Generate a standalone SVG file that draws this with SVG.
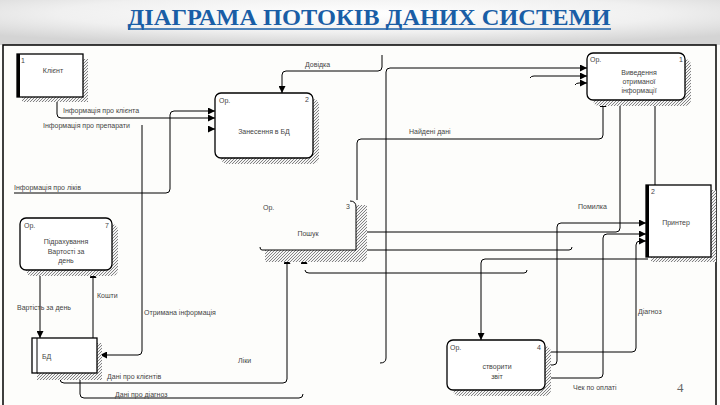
<svg xmlns="http://www.w3.org/2000/svg" width="720" height="405" viewBox="0 0 720 405">
<defs>
<radialGradient id="bg" cx="0.5" cy="0.3" r="0.7">
<stop offset="0" stop-color="#ffffff"/>
<stop offset="0.6" stop-color="#f0f0f0"/>
<stop offset="1" stop-color="#d4d4d4"/>
</radialGradient>
<pattern id="hatch" width="3" height="3" patternUnits="userSpaceOnUse">
<rect width="3" height="3" fill="#f4f4f4"/>
<path d="M0,3 L3,0" stroke="#666" stroke-width="0.8"/>
</pattern>
<marker id="ar" markerUnits="userSpaceOnUse" markerWidth="7" markerHeight="7" refX="7" refY="3.5" orient="auto">
<path d="M0,0 L7,3.5 L0,7 z" fill="#000"/>
</marker>
<style>
.n{fill:#fff;stroke:#000;stroke-width:1.3}
.sh{fill:url(#hatch);stroke:none}
.c{fill:none;stroke:#000;stroke-width:1}
.ca{fill:none;stroke:#000;stroke-width:1;marker-end:url(#ar)}
.t{font-family:"Liberation Sans",Arial,sans-serif;font-size:7px;fill:#444}
.tm{font-family:"Liberation Sans",Arial,sans-serif;font-size:7px;fill:#444;text-anchor:middle}
.title{font-family:"Liberation Serif","Times New Roman",serif;font-size:24px;font-weight:bold;fill:#1a5ea6}
</style>
</defs>
<rect x="0" y="0" width="720" height="405" fill="#fdfdfb"/>
<rect x="0" y="0" width="720" height="45" fill="url(#bg)"/>
<text class="title" x="369" y="25" text-anchor="middle" textLength="483" lengthAdjust="spacingAndGlyphs">ДІАГРАМА ПОТОКІВ ДАНИХ СИСТЕМИ</text>
<line x1="128" y1="29" x2="611" y2="29" stroke="#1a5ea6" stroke-width="1.6"/>
<rect x="3" y="45" width="713" height="370" fill="none" stroke="#000" stroke-width="1.5"/>

<g id="connectors">
<path class="ca" d="M57,97 V114 Q57,118 61,118 H215"/>
<path class="ca" d="M14,193 H166 Q170,193 170,189 V115 Q170,111 174,111 H215"/>
<path class="ca" d="M209,129 H215"/>
<path class="ca" d="M142,125 V351 Q142,355 138,355 H100"/>
<path class="ca" d="M382,55 V67 Q382,71 378,71 H286 Q282,71 282,75 V93"/>
<path class="ca" d="M380,363 Q386,363 386,358 V72 Q386,68 390,68 H587"/>
<path class="ca" d="M530,78 Q531,76 534,76 H587"/>
<path class="ca" d="M575,85 Q576,83 579,83 H587"/>
<path class="ca" d="M357,200 V143 Q357,139 361,139 H599 Q603,139 603,135 V100"/>
<path class="ca" d="M620,100 V228 Q620,232 616,232 H358"/>
<path class="c" d="M655,100 V185"/>
<path class="ca" d="M545,365 H553 Q557,365 557,361 V227 Q557,223 561,223 H646"/>
<path class="ca" d="M545,378 H599 Q603,378 603,374 V238 Q603,234 607,234 H646"/>
<path class="ca" d="M545,352 H632 Q636,352 636,348 V245 Q636,241 640,241 H646"/>
<path class="ca" d="M648,259 H485 Q481,259 481,263 V340"/>
<path class="c" d="M356,250 H569 Q572,250 572,247"/>
<path class="c" d="M305,270 Q305,273 309,273 H524 Q527,273 527,270"/>
<path class="ca" d="M60,373 V379 Q60,383 64,383 H283 Q287,383 287,379 V257"/>
<path class="c" d="M80,373 V394 Q80,398 84,398 H299 Q303,398 303,394"/>
<path class="ca" d="M304,263 V257"/>
<path class="ca" d="M40,270 V338"/>
<path class="ca" d="M93,338 V271"/>
<text class="t" x="63" y="113">Інформація про клієнта</text>
<text class="t" x="43" y="128">Інформація про препарати</text>
<text class="t" x="14" y="190">Інформація про ліків</text>
<text class="t" x="305" y="67">Довідка</text>
<text class="t" x="409" y="134">Найдені дані</text>
<text class="t" x="578" y="209">Помилка</text>
<text class="t" x="638" y="314">Діагноз</text>
<text class="t" x="573" y="390">Чек по оплаті</text>
<text class="t" x="17" y="310">Вартість за день</text>
<text class="t" x="97" y="298">Кошти</text>
<text class="t" x="144" y="315">Отримана інформація</text>
<text class="t" x="238" y="363">Ліки</text>
<text class="t" x="107" y="379">Дані про клієнтів</text>
<text class="t" x="115" y="397">Дані про діагноз</text>
</g>

<g id="client">
<rect class="sh" x="22" y="59" width="66" height="43"/>
<rect class="n" x="17" y="54" width="66" height="43"/>
<line x1="18.5" y1="54" x2="18.5" y2="97" stroke="#000" stroke-width="3"/>
<text class="t" x="21" y="63">1</text>
<text class="tm" x="53" y="73">Клієнт</text>
</g>

<g id="node2">
<rect class="sh" x="221" y="99" width="98" height="65" rx="6"/>
<rect class="n" x="215" y="93" width="98" height="65" rx="6"/>
<text class="t" x="219" y="103">Ор.</text>
<text class="t" x="305" y="102">2</text>
<text class="tm" x="264" y="134">Занесення в БД</text>
</g>

<g id="node1">
<rect class="sh" x="593" y="59" width="98" height="47" rx="6"/>
<rect class="n" x="587" y="53" width="98" height="47" rx="6"/>
<text class="t" x="590" y="62">Ор.</text>
<text class="t" x="679" y="62">1</text>
<text class="tm" x="639" y="75">Виведення</text>
<text class="tm" x="639" y="84">отриманої</text>
<text class="tm" x="639" y="93">інформації</text>
</g>

<g id="printer">
<rect class="sh" x="651" y="190" width="65" height="72"/>
<rect class="n" x="646" y="185" width="65" height="72"/>
<line x1="647.5" y1="185" x2="647.5" y2="257" stroke="#000" stroke-width="3"/>
<text class="t" x="651" y="194">2</text>
<text class="tm" x="676" y="225">Принтер</text>
</g>

<g id="node3">
<path class="sh" d="M265,250 H356 V205 H367 V256 Q367,262 361,262 H265 z"/>
<path class="c" d="M350,201 Q356,201 356,207 V250 H262 Q260,250 260,247" stroke-width="1.3"/>
<text class="t" x="263" y="210">Ор.</text>
<text class="t" x="346" y="209">3</text>
<text class="tm" x="308" y="236">Пошук</text>
</g>

<g id="node4">
<rect class="sh" x="453" y="346" width="98" height="50" rx="6"/>
<rect class="n" x="447" y="340" width="98" height="50" rx="6"/>
<text class="t" x="450" y="350">Ор.</text>
<text class="t" x="537" y="350">4</text>
<text class="tm" x="497" y="369">створити</text>
<text class="tm" x="497" y="379">звіт</text>
</g>

<g id="node7">
<rect class="sh" x="26" y="224" width="92" height="52" rx="6"/>
<rect class="n" x="20" y="218" width="92" height="52" rx="6"/>
<text class="t" x="24" y="228">Ор.</text>
<text class="t" x="105" y="228">7</text>
<text class="tm" x="66" y="244" font-size="8.5">Підрахування</text>
<text class="tm" x="66" y="254">Вартості за</text>
<text class="tm" x="66" y="263">день</text>
</g>

<g id="db">
<rect class="sh" x="37" y="343" width="65" height="37"/>
<rect class="n" x="32" y="338" width="65" height="35"/>
<line x1="37" y1="338" x2="37" y2="373" stroke="#000" stroke-width="1"/>
<text class="t" x="42" y="359">БД</text>
</g>

<text x="677" y="392" font-family="Liberation Serif, serif" font-size="13" fill="#666">4</text>
</svg>
